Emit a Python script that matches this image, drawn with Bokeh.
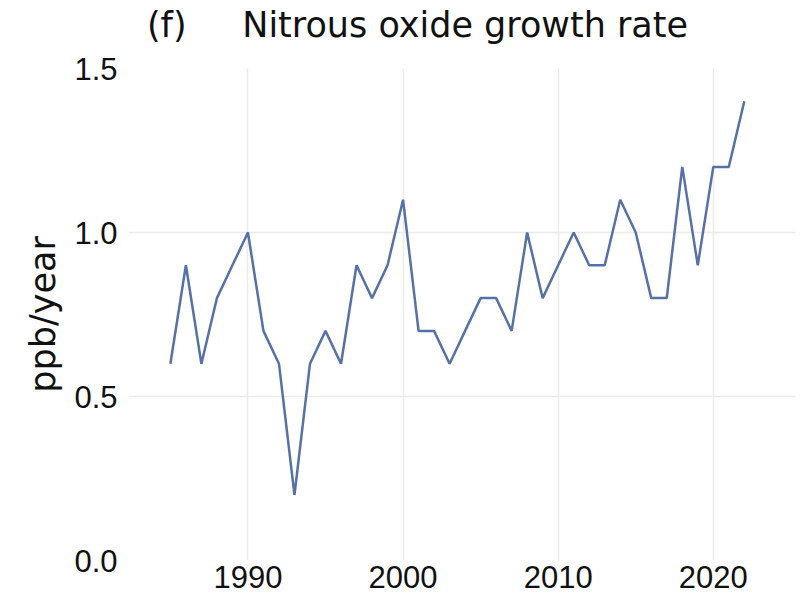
from bokeh.plotting import figure
from bokeh.models import Range1d, FixedTicker, LinearAxis
from bokeh.embed import file_html
from bokeh.resources import INLINE

years = list(range(1985, 2023))
growth_rate = [0.6, 0.9, 0.6, 0.8, 0.9, 1.0, 0.7, 0.6, 0.2, 0.6,
               0.7, 0.6, 0.9, 0.8, 0.9, 1.1, 0.7, 0.7, 0.6, 0.7,
               0.8, 0.8, 0.7, 1.0, 0.8, 0.9, 1.0, 0.9, 0.9, 1.1,
               1.0, 0.8, 0.8, 1.2, 0.9, 1.2, 1.2, 1.4]
x_ticks = [1990, 2000, 2010, 2020]
y_ticks = [0.0, 0.5, 1.0, 1.5]
panel_label = "(f)"
title_text = "Nitrous oxide growth rate"
y_label = "ppb/year"

TICK_FONT = "'Liberation Sans Narrow', 'Liberation Sans', sans-serif"
MAIN_FONT = "'DejaVu Sans', sans-serif"
NBSP = "\u00a0"

p = figure(width=803, height=602, output_backend="svg", toolbar_location=None,
           x_range=Range1d(1982.3, 2025.3), y_range=Range1d(0, 1.5),
           min_border_left=128, min_border_right=8, min_border_top=68,
           min_border_bottom=42)

p.line(years, growth_rate, line_color="#5571a8", line_width=2.5)

bottom_axis = p.below[0]
left_axis = p.left[0]

# title drawn as the label of an empty axis above the frame
top = LinearAxis(ticker=FixedTicker(ticks=[]))
top.axis_line_color = None
top.major_tick_line_color = None
top.minor_tick_line_color = None
top.major_tick_out = 0
top.major_tick_in = 0
top.minor_tick_out = 0
top.minor_tick_in = 0
top.major_label_standoff = 0
top.major_label_text_font_size = "0px"
top.axis_label = panel_label + NBSP * 5 + title_text + NBSP * 8
top.axis_label_text_font = MAIN_FONT
top.axis_label_text_font_size = "35px"
top.axis_label_text_font_style = "normal"
top.axis_label_text_color = "#111111"
top.axis_label_standoff = 24
p.add_layout(top, "above")

p.outline_line_color = None
p.background_fill_color = "white"
p.border_fill_color = "white"

for ax in (bottom_axis, left_axis):
    ax.axis_line_color = None
    ax.major_tick_line_color = None
    ax.minor_tick_line_color = None
    ax.major_tick_out = 0
    ax.major_tick_in = 0
    ax.minor_tick_out = 0
    ax.minor_tick_in = 0
    ax.major_label_text_font = TICK_FONT
    ax.major_label_text_font_size = "31px"
    ax.major_label_text_color = "#111111"

bottom_axis.ticker = FixedTicker(ticks=x_ticks)
left_axis.ticker = FixedTicker(ticks=y_ticks)
left_axis.major_label_overrides = {0.0: "0.0", 0.5: "0.5", 1.0: "1.0", 1.5: "1.5"}
bottom_axis.major_label_standoff = 5
left_axis.major_label_standoff = 11

left_axis.axis_label = y_label
left_axis.axis_label_text_font = MAIN_FONT
left_axis.axis_label_text_font_size = "35px"
left_axis.axis_label_text_font_style = "normal"
left_axis.axis_label_text_color = "#111111"
left_axis.axis_label_standoff = 8

p.xgrid[0].ticker = bottom_axis.ticker
p.ygrid[0].ticker = left_axis.ticker
p.xgrid[0].grid_line_color = "#ebebeb"
p.ygrid[0].grid_line_color = "#ebebeb"
p.xgrid[0].grid_line_width = 1.5
p.ygrid[0].grid_line_width = 1.5

open("out.html", "w").write(file_html(p, INLINE))
